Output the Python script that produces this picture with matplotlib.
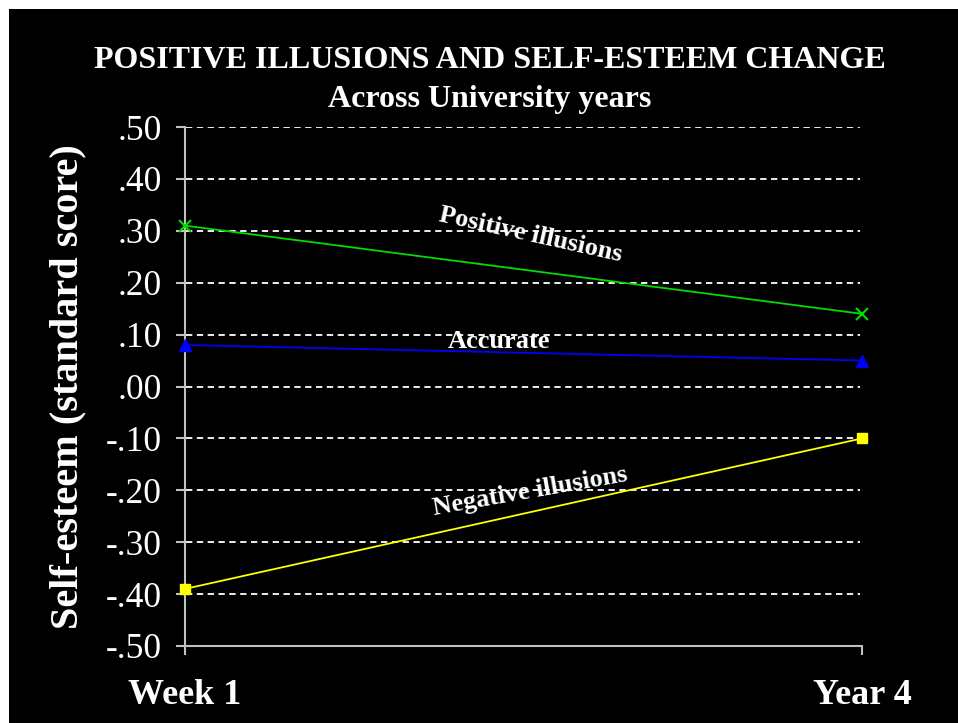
import matplotlib.pyplot as plt
from matplotlib.patches import Rectangle

# Donnees
periodes = ["Week 1", "Year 4"]
positive = [0.31, 0.14]
accurate = [0.08, 0.05]
negative = [-0.39, -0.10]
yticks = [-0.5, -0.4, -0.3, -0.2, -0.1, 0.0, 0.1, 0.2, 0.3, 0.4, 0.5]
ytick_labels = ["-.50", "-.40", "-.30", "-.20", "-.10", ".00", ".10", ".20", ".30", ".40", ".50"]

serif = "Liberation Serif"

fig = plt.figure(figsize=(9.58, 7.23), dpi=100, facecolor="white")
# fond noir avec une petite marge blanche en haut et a gauche
fig.patches.append(Rectangle((9 / 958, 0), 1 - 9 / 958, 1 - 9 / 723,
                             transform=fig.transFigure, facecolor="black",
                             edgecolor="none", zorder=-10))

ax = fig.add_axes([185 / 958, 1 - 646 / 723, (862 - 185) / 958, (646 - 127) / 723])
ax.set_facecolor("black")

x = [0, 1]
ax.plot(x, positive, color="#00dd00", lw=1.3, marker="x", ms=8, mew=1.5, clip_on=False, zorder=3)
ax.plot(x, accurate, color="#0000ff", lw=1.3, marker="^", ms=8, clip_on=False, zorder=3)
ax.plot(x, negative, color="#ffff00", lw=1.3, marker="s", ms=7, clip_on=False, zorder=3)

# grille pointillee blanche
for y in yticks[1:]:
    ax.axhline(y, xmin=0.002, xmax=0.997, color="white", lw=1.3, dashes=(3.5, 2.5), zorder=1)

ax.set_xlim(0, 1)
ax.set_ylim(-0.5, 0.5)
ax.set_yticks(yticks)
ax.set_yticklabels(ytick_labels, family=serif, fontsize=25.5, color="white")
ax.set_xticks(x)
ax.set_xticklabels(periodes, family=serif, fontsize=26, fontweight="bold", color="white")
ax.tick_params(axis="y", length=6.5, width=1.5, color="#c0c0c0", pad=10)
ax.tick_params(axis="x", length=6.5, width=1.5, color="#c0c0c0", pad=17)

for side in ["top", "right"]:
    ax.spines[side].set_visible(False)
for side in ["left", "bottom"]:
    ax.spines[side].set_color("#c0c0c0")
    ax.spines[side].set_linewidth(1.5)

ax.set_ylabel("Self-esteem (standard score)", family=serif, fontsize=29,
              fontweight="bold", color="white")
ax.yaxis.set_label_coords(-0.145, 0.5)

# etiquettes des courbes
ax.text(0.51, 0.292, "Positive illusions", family=serif, fontsize=19, fontweight="bold",
        color="white", rotation=-12.5, ha="center", va="center")
ax.text(0.464, 0.086, "Accurate", family=serif, fontsize=19, fontweight="bold",
        color="white", ha="center", va="center")
ax.text(0.51, -0.203, "Negative illusions", family=serif, fontsize=19, fontweight="bold",
        color="white", rotation=10, ha="center", va="center")

fig.text(490 / 958, 1 - 61 / 723, "POSITIVE ILLUSIONS AND SELF-ESTEEM CHANGE", family=serif,
         fontsize=23, fontweight="bold", color="white", ha="center", va="center")
fig.text(490 / 958, 1 - 99 / 723, "Across University years", family=serif,
         fontsize=23, fontweight="bold", color="white", ha="center", va="center")

fig.savefig("out.png", dpi=100, facecolor="white")
